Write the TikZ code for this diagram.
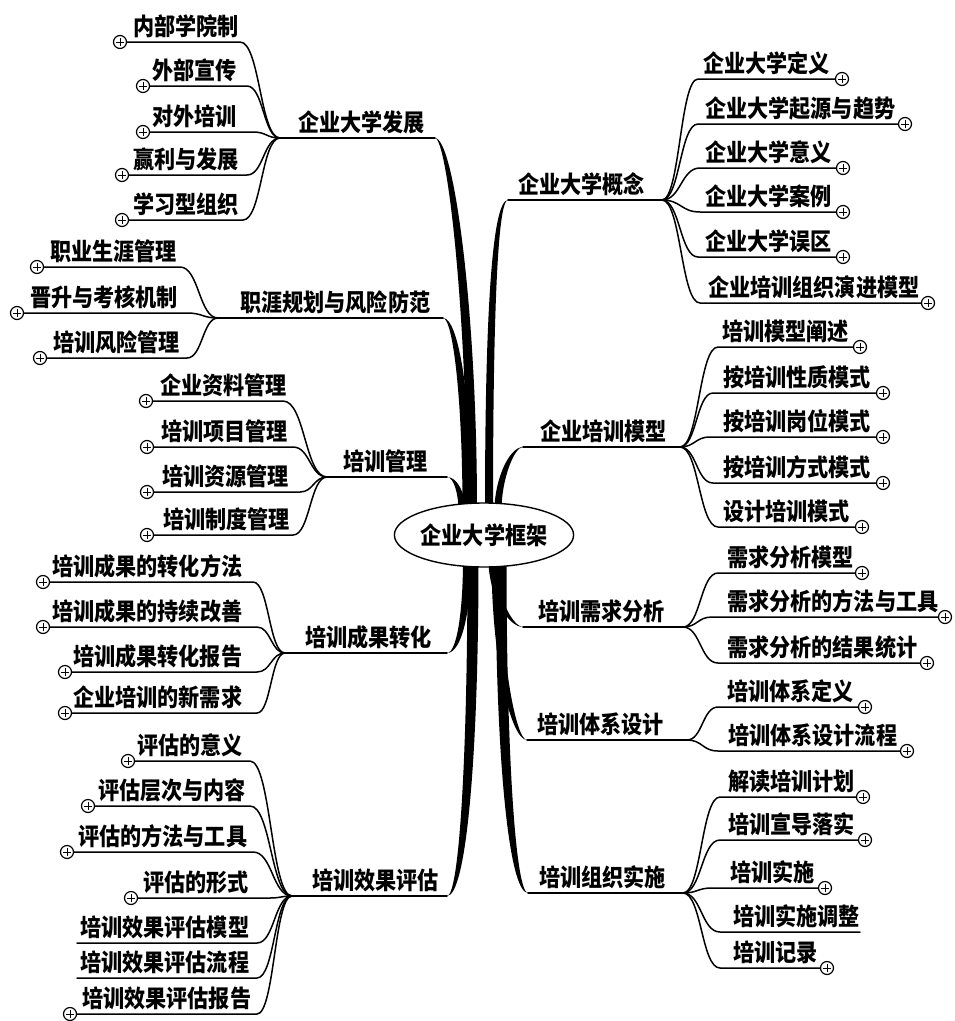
\documentclass[tikz,border=0pt]{standalone}
\usepackage{fontspec}
\newfontfamily\cjk{Noto Sans CJK SC}[FakeStretch=0.88]
\usetikzlibrary{calc,shapes.geometric}
\tikzset{
  lbl/.style={font=\cjk\bfseries\fontsize{24}{24}\selectfont, inner sep=0pt, anchor=base west},
  leaf/.style={line width=1.5pt, line cap=round},
  bline/.style={line width=1.8pt, line cap=round},
  plusc/.style={circle, draw, line width=1.2pt, fill=white, minimum size=13pt, inner sep=0pt,
    path picture={\draw[line width=1pt]
      ($(path picture bounding box.center)+(-3.6,0)$) -- ($(path picture bounding box.center)+(3.6,0)$)
      ($(path picture bounding box.center)+(0,-3.6)$) -- ($(path picture bounding box.center)+(0,3.6)$);}},
  hubell/.style={ellipse, draw, line width=1.4pt, fill=white, minimum width=172pt, minimum height=64pt,
    font=\cjk\bfseries\fontsize{24}{24}\selectfont, inner sep=0pt}
}
% main branch: name, text, text x, line y, left x, right x
\newcommand\branchline[6]{%
  \coordinate (#1a) at (#5,#4);
  \coordinate (#1b) at (#6,#4);
  \node[lbl] (#1t) at (#3,#4-7) {#2};
  \draw[bline] (#1a) -- (#1b);
}
% left leaf with circle: name, text, text x, y, circle x, end x, hub
\newcommand\leafL[7]{%
  \node[lbl] (#1t) at (#3,#4-7) {#2};
  \coordinate (#1e) at (#6,#4);
  \node[plusc] (#1c) at (#5,#4) {};
  \draw[leaf] (#1c) -- (#1e) let \p1=(#1e), \p2=(#7) in
    .. controls ({(\x1+\x2)/2},\y1) and ({(\x1+\x2)/2},\y2) .. (#7);
}
% left leaf without circle
\newcommand\leafN[7]{%
  \node[lbl] (#1t) at (#3,#4-7) {#2};
  \coordinate (#1e) at (#6,#4);
  \coordinate (#1c) at (#5,#4);
  \draw[leaf] (#1c) -- (#1e) let \p1=(#1e), \p2=(#7) in
    .. controls ({(\x1+\x2)/2},\y1) and ({(\x1+\x2)/2},\y2) .. (#7);
}
% right leaf: name, text, text x, y, start x, circle x, hub
\newcommand\leafR[7]{%
  \node[lbl] (#1t) at (#3,#4-7) {#2};
  \coordinate (#1s) at (#5,#4);
  \node[plusc] (#1c) at (#6,#4) {};
  \draw[leaf] (#7) let \p1=(#7), \p2=(#1s) in
    .. controls ({(\x1+\x2)/2},\y1) and ({(\x1+\x2)/2},\y2) .. (#1s) -- (#1c);
}
\newcommand\leafRn[7]{%
  \node[lbl] (#1t) at (#3,#4-7) {#2};
  \coordinate (#1s) at (#5,#4);
  \coordinate (#1c) at (#6,#4);
  \draw[leaf] (#7) let \p1=(#7), \p2=(#1s) in
    .. controls ({(\x1+\x2)/2},\y1) and ({(\x1+\x2)/2},\y2) .. (#1s) -- (#1c);
}
% tapered trunk: end, start on ellipse, half width, vertical ctrl, ctrl dx (edge -w), ctrl dx (edge +w)
\newcommand\trunk[6]{%
  \fill (#1) .. controls ($(#1)+(#5,0)$) and ($(#2)+(-#3,#4)$) .. ($(#2)+(-#3,0)$)
    -- ($(#2)+(#3,0)$) .. controls ($(#2)+(#3,#4)$) and ($(#1)+(#6,0)$) .. (#1) -- cycle;
}
\begin{document}
\begin{tikzpicture}[x=1pt,y=-1pt]
\useasboundingbox (0,0) rectangle (955,1021);

% main branches (left: a = hub, b = trunk end; right: a = trunk end, b = hub)
\branchline{A}{企业大学发展}{298}{138}{280}{435}
\branchline{B}{职涯规划与风险防范}{240}{318}{218}{443}
\branchline{M}{培训管理}{343}{477}{327}{447}
\branchline{D}{培训成果转化}{305}{653}{285}{447}
\branchline{E}{培训效果评估}{312}{896}{292}{447}
\branchline{F}{企业大学概念}{518}{200}{508}{662}
\branchline{G}{企业培训模型}{540}{447}{523}{680}
\branchline{H}{培训需求分析}{538}{627}{523}{683}
\branchline{I}{培训体系设计}{537}{740}{527}{687}
\branchline{J}{培训组织实施}{539}{893}{528}{683}

% trunk start points on the central ellipse
\coordinate (s1) at (472,510);
\coordinate (s2) at (467,510);
\coordinate (s3) at (462,510);
\coordinate (s4) at (489,510);
\coordinate (s5) at (498,510);
\coordinate (s6) at (467,560);
\coordinate (s7) at (473,560);
\coordinate (s8) at (492,560);
\coordinate (s9) at (496,560);
\coordinate (s10) at (501,560);

\trunk{Ab}{s1}{5}{-200}{12}{19}
\trunk{Bb}{s2}{4.5}{-110}{10}{16}
\trunk{Mb}{s3}{3.5}{-15}{7}{11}
\trunk{Fa}{s4}{4}{-180}{-17}{-11}
\trunk{Ga}{s5}{3.5}{-30}{-14}{-9}
\trunk{Db}{s6}{4}{50}{10}{15}
\trunk{Eb}{s7}{5.5}{200}{12}{19}
\trunk{Ha}{s8}{3.5}{35}{-15}{-10}
\trunk{Ia}{s9}{4.5}{100}{-16}{-11}
\trunk{Ja}{s10}{5.5}{200}{-19}{-12}

\node[hubell] (C) at (484,535) {企业大学框架};

% leaves: 企业大学发展
\leafL{A1}{内部学院制}{133}{42}{120}{240}{Aa}
\leafL{A2}{外部宣传}{152}{86}{143}{247}{Aa}
\leafL{A3}{对外培训}{152}{132}{143}{253}{Aa}
\leafL{A4}{赢利与发展}{133}{175}{122}{247}{Aa}
\leafL{A5}{学习型组织}{133}{220}{122}{243}{Aa}
% 职涯规划与风险防范
\leafL{B1}{职业生涯管理}{50}{267}{37}{180}{Ba}
\leafL{B2}{晋升与考核机制}{30}{313}{17}{187}{Ba}
\leafL{B3}{培训风险管理}{53}{358}{40}{187}{Ba}
% 培训管理
\leafL{M1}{企业资料管理}{160}{401}{146}{283}{Ma}
\leafL{M2}{培训项目管理}{161}{447}{147}{293}{Ma}
\leafL{M3}{培训资源管理}{162}{492}{147}{300}{Ma}
\leafL{M4}{培训制度管理}{163}{535}{147}{293}{Ma}
% 培训成果转化
\leafL{D1}{培训成果的转化方法}{52}{582}{43}{253}{Da}
\leafL{D2}{培训成果的持续改善}{52}{627}{43}{257}{Da}
\leafL{D3}{培训成果转化报告}{73}{672}{65}{257}{Da}
\leafL{D4}{企业培训的新需求}{73}{713}{65}{257}{Da}
% 培训效果评估
\leafL{E1}{评估的意义}{137}{761}{128}{250}{Ea}
\leafL{E2}{评估层次与内容}{98}{806}{88}{250}{Ea}
\leafL{E3}{评估的方法与工具}{78}{852}{67}{253}{Ea}
\leafL{E4}{评估的形式}{143}{898}{131}{270}{Ea}
\leafN{E5}{培训效果评估模型}{80}{943}{77}{257}{Ea}
\leafN{E6}{培训效果评估流程}{80}{978}{77}{257}{Ea}
\leafL{E7}{培训效果评估报告}{82}{1014}{70}{257}{Ea}
% 企业大学概念
\leafR{F1}{企业大学定义}{703}{79}{698}{842}{Fb}
\leafR{F2}{企业大学起源与趋势}{705}{124}{698}{905}{Fb}
\leafR{F3}{企业大学意义}{705}{168}{700}{843}{Fb}
\leafR{F4}{企业大学案例}{705}{212}{700}{843}{Fb}
\leafR{F5}{企业大学误区}{705}{257}{698}{843}{Fb}
\leafR{F6}{企业培训组织演进模型}{708}{303}{700}{928}{Fb}
% 企业培训模型
\leafR{G1}{培训模型阐述}{722}{347}{718}{860}{Gb}
\leafR{G2}{按培训性质模式}{723}{393}{713}{883}{Gb}
\leafR{G3}{按培训岗位模式}{723}{437}{710}{883}{Gb}
\leafR{G4}{按培训方式模式}{723}{483}{713}{883}{Gb}
\leafR{G5}{设计培训模式}{723}{527}{718}{862}{Gb}
% 培训需求分析
\leafR{H1}{需求分析模型}{727}{573}{718}{862}{Hb}
\leafR{H2}{需求分析的方法与工具}{727}{617}{712}{945}{Hb}
\leafR{H3}{需求分析的结果统计}{727}{663}{718}{927}{Hb}
% 培训体系设计
\leafR{I1}{培训体系定义}{727}{707}{718}{865}{Ib}
\leafR{I2}{培训体系设计流程}{728}{751}{718}{907}{Ib}
% 培训组织实施
\leafR{J1}{解读培训计划}{728}{797}{720}{863}{Jb}
\leafR{J2}{培训宣导落实}{728}{840}{720}{865}{Jb}
\leafR{J3}{培训实施}{730}{888}{712}{825}{Jb}
\leafRn{J4}{培训实施调整}{733}{932}{720}{860}{Jb}
\leafR{J5}{培训记录}{733}{968}{720}{827}{Jb}
\end{tikzpicture}
\end{document}
